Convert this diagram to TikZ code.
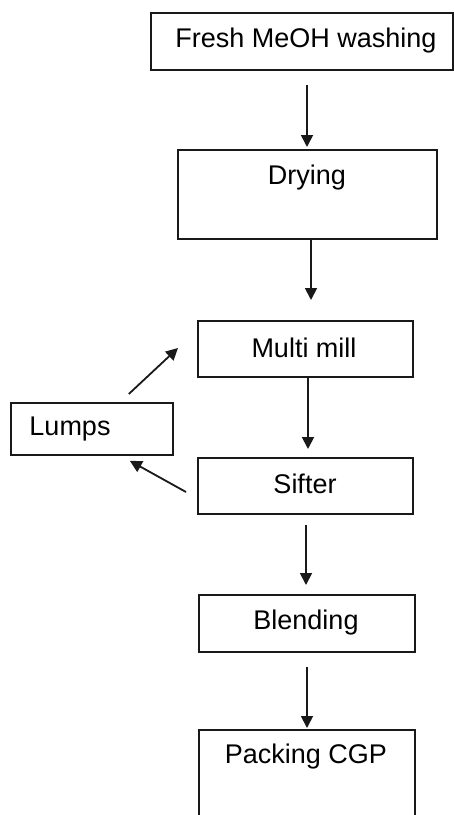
\documentclass[tikz,border=0pt]{standalone}
\usepackage{fontspec}
\setmainfont{Liberation Sans}
\usetikzlibrary{arrows.meta}
\begin{document}
\begin{tikzpicture}[x=1pt,y=-1pt,
  box/.style={draw=black!90, line width=1.8pt, rectangle, inner sep=0pt, anchor=north west},
  lbl/.style={font=\fontsize{27}{30}\selectfont, inner sep=0pt},
  arr/.style={draw=black!90, line width=1.8pt, -{Triangle[length=12pt 0 0, width=12pt 0 0]}}]
\useasboundingbox (0,0) rectangle (454,815);
\clip (0,0) rectangle (454,815);
\fill[white] (0,0) rectangle (454,815);
% boxes
\node[box, minimum width=302pt, minimum height=57pt] (fresh) at (150,12) {};
\node[lbl] (tfresh) at (306,41) {Fresh MeOH washing};
\node[box, minimum width=259pt, minimum height=89pt] (dry) at (177,149) {};
\node[lbl] (tdry) at (307,178) {Drying};
\node[box, minimum width=215pt, minimum height=56pt] (mill) at (197,320) {};
\node[lbl] (tmill) at (304,348) {Multi mill};
\node[box, minimum width=162pt, minimum height=52pt] (lumps) at (10,402) {};
\node[lbl] (tlumps) at (70,429) {Lumps};
\node[box, minimum width=215pt, minimum height=56pt] (sifter) at (197,457) {};
\node[lbl] (tsifter) at (305,484) {Sifter};
\node[box, minimum width=216pt, minimum height=57pt] (blend) at (198,594) {};
\node[lbl] (tblend) at (306,623) {Blending};
\node[box, minimum width=216pt, minimum height=110pt] (pack) at (198,729) {};
\node[lbl] (tpack) at (306,757) {Packing CGP};
% vertical arrows
\draw[arr, shorten <=14pt, shorten >=2pt] (fresh.south -| 307,0) -- (dry.north -| 307,0);
\draw[arr, shorten >=20pt] (dry.south -| 311,0) -- (mill.north -| 311,0);
\draw[arr, shorten >=8pt] (mill.south -| 308,0) -- (sifter.north -| 308,0);
\draw[arr, shorten <=10pt, shorten >=9pt] (sifter.south -| 306,0) -- (blend.north -| 306,0);
\draw[arr, shorten <=14pt, shorten >=1pt] (blend.south -| 307,0) -- (pack.north -| 307,0);
% recycle arrows
\draw[arr] ([shift={(-45,-8)}]lumps.north east) -- ([shift={(-19,28)}]mill.north west);
\draw[arr] ([shift={(-11,35)}]sifter.north west) -- ([shift={(-44,5)}]lumps.south east);
\end{tikzpicture}
\end{document}
